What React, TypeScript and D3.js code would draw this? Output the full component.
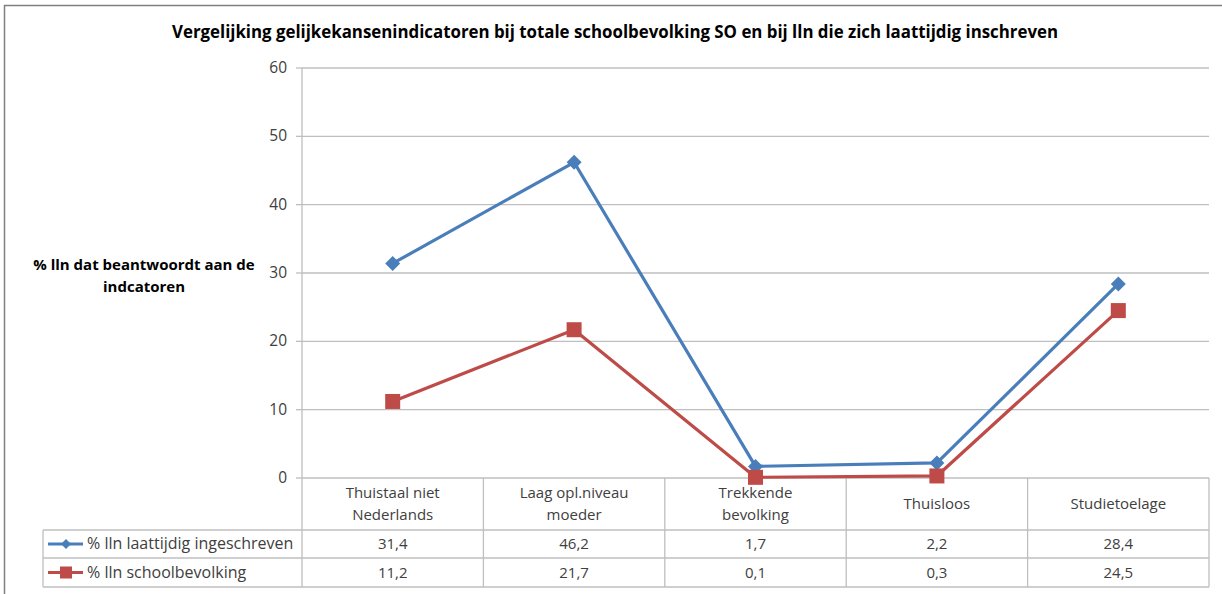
import React from "react";
import * as d3 from "d3";

const title = "Vergelijking gelijkekansenindicatoren bij totale schoolbevolking SO en bij lln die zich laattijdig inschreven";
const yTitle = ["% lln dat beantwoordt aan de", "indcatoren"];
const categories = [
  ["Thuistaal niet", "Nederlands"],
  ["Laag opl.niveau", "moeder"],
  ["Trekkende", "bevolking"],
  ["Thuisloos"],
  ["Studietoelage"],
];
const seriesNames = ["% lln laattijdig ingeschreven", "% lln schoolbevolking"];
const lateValues = [31.4, 46.2, 1.7, 2.2, 28.4];
const schoolValues = [11.2, 21.7, 0.1, 0.3, 24.5];
const yTicks = [0, 10, 20, 30, 40, 50, 60];
const colors = ["#4A7EBB", "#BE4B48"];

const W = 1222, H = 594;
const plotL = 302, plotR = 1209, plotT = 68, plotB = 478;
const rowBottoms = [530, 558, 587];
const tableLeft = 43;
const FONT = "'Open Sans', sans-serif";

export default function App() {
  const x = d3.scaleBand<number>().domain(d3.range(categories.length)).range([plotL, plotR]);
  const y = d3.scaleLinear().domain([0, 60]).range([plotB, plotT]);
  const line = d3.line<number>().x((_, i) => (x(i) as number) + x.bandwidth() / 2).y((d) => y(d));
  const series = [lateValues, schoolValues];
  const textCol = "#404040";
  const grid = "#BFBFBF";

  const diamond = (cx: number, cy: number, r: number) =>
    `M${cx},${cy - r}L${cx + r},${cy}L${cx},${cy + r}L${cx - r},${cy}Z`;

  return (
    <svg width={W} height={H} style={{ position: "absolute", left: 0, top: 0, fontFamily: FONT }}>
      <rect x={0} y={0} width={W} height={H} fill="#fff" />
      {/* frame */}
      <line x1={4.5} y1={5} x2={4.5} y2={H} stroke="#7F7F7F" strokeWidth={1.5} />
      <line x1={4} y1={5.5} x2={W} y2={5.5} stroke="#7F7F7F" strokeWidth={1.5} />
      <text x={615} y={38} textAnchor="middle" fontSize={17.5} fontWeight="bold" fill="#000" textLength={886} lengthAdjust="spacingAndGlyphs">
        {title}
      </text>
      {/* gridlines */}
      {yTicks.map((t) => (
        <g key={t}>
          <line x1={plotL} x2={plotR} y1={y(t)} y2={y(t)} stroke={grid} strokeWidth={1.3} />
          <line x1={plotL - 6} x2={plotL} y1={y(t)} y2={y(t)} stroke={grid} strokeWidth={1.3} />
          <text x={287} y={y(t) + 5} textAnchor="end" fontSize={15.5} fill={textCol}>{t}</text>
        </g>
      ))}
      <line x1={plotL} x2={plotL} y1={plotT} y2={rowBottoms[2]} stroke={grid} strokeWidth={1.3} />
      {/* y title */}
      {yTitle.map((s, i) => (
        <text key={i} x={144} y={270 + i * 22} textAnchor="middle" fontSize={15} fontWeight="bold" fill="#000">{s}</text>
      ))}
      {/* table */}
      {categories.map((_, i) => (
        <line key={i} x1={(x(i) as number) + x.bandwidth()} x2={(x(i) as number) + x.bandwidth()} y1={plotB} y2={rowBottoms[2]} stroke={grid} strokeWidth={1.3} />
      ))}
      <line x1={tableLeft} x2={tableLeft} y1={rowBottoms[0]} y2={rowBottoms[2]} stroke={grid} strokeWidth={1.3} />
      {rowBottoms.map((rb, i) => (
        <line key={i} x1={tableLeft} x2={plotR} y1={rb} y2={rb} stroke={grid} strokeWidth={1.3} />
      ))}
      {categories.map((c, i) => {
        const cx = (x(i) as number) + x.bandwidth() / 2;
        const mid = (plotB + rowBottoms[0]) / 2;
        return (
          <text key={i} textAnchor="middle" fontSize={15} fill={textCol}>
            {c.map((s, j) => (
              <tspan key={j} x={cx} y={mid + 5 + (j - (c.length - 1) / 2) * 22}>{s}</tspan>
            ))}
          </text>
        );
      })}
      {series.map((vals, si) => {
        const cy = (rowBottoms[si] + rowBottoms[si + 1]) / 2 + 5;
        return (
          <g key={si}>
            {vals.map((v, i) => (
              <text key={i} x={(x(i) as number) + x.bandwidth() / 2} y={cy} textAnchor="middle" fontSize={15} fill={textCol}>
                {d3.format(".1f")(v).replace(".", ",")}
              </text>
            ))}
            <line x1={48} x2={83} y1={cy - 5} y2={cy - 5} stroke={colors[si]} strokeWidth={3} />
            {si === 0 ? (
              <path d={diamond(66, cy - 5, 5)} fill={colors[si]} />
            ) : (
              <rect x={60} y={cy - 11} width={12} height={12} fill={colors[si]} />
            )}
            <text x={87} y={cy} fontSize={16} fill={textCol}>{seriesNames[si]}</text>
          </g>
        );
      })}
      {/* lines */}
      {series.map((vals, si) => (
        <g key={si}>
          <path d={line(vals) as string} fill="none" stroke={colors[si]} strokeWidth={3.2} strokeLinejoin="round" />
          {vals.map((v, i) => {
            const cx = (x(i) as number) + x.bandwidth() / 2;
            const cy = y(v);
            return si === 0 ? (
              <path key={i} d={diamond(cx, cy, 7.5)} fill={colors[si]} />
            ) : (
              <rect key={i} x={cx - 7.5} y={cy - 7.5} width={15} height={15} fill={colors[si]} />
            );
          })}
        </g>
      ))}
    </svg>
  );
}
